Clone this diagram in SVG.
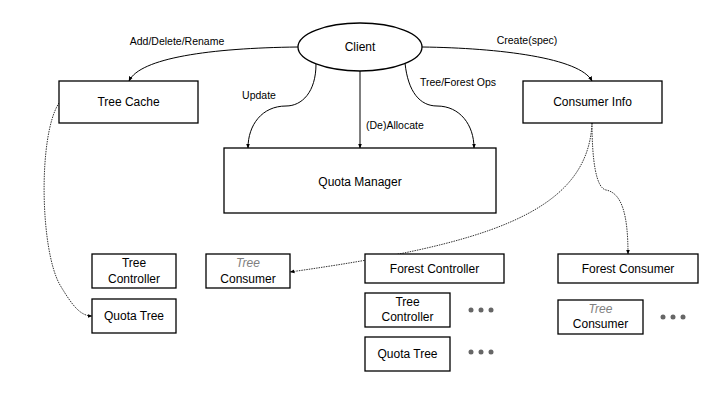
<svg xmlns="http://www.w3.org/2000/svg" width="720" height="405" viewBox="0 0 720 405">
<style>
.box{fill:#fff;stroke:#000;stroke-width:1.3}
.t{font-family:"Liberation Sans",Arial,sans-serif;font-size:12px;fill:#000;text-anchor:middle;dominant-baseline:central}
.l{font-family:"Liberation Sans",Arial,sans-serif;font-size:10.5px;fill:#000}
.it{font-style:italic;fill:#808080}
.c{fill:none;stroke:#000;stroke-width:1}
.d{fill:none;stroke:#333;stroke-width:1;stroke-dasharray:1.5 1}
.dot{fill:#666}
</style>
<defs>
<marker id="a" viewBox="0 0 10 10" refX="9" refY="5" markerWidth="5" markerHeight="5" orient="auto">
<path d="M0,1 L10,5 L0,9 z" fill="#000"/>
</marker>
</defs>
<rect width="720" height="405" fill="#fff"/>
<g id="connectors">
<path class="c" d="M298,47 C210,48 140,58 129,81" marker-end="url(#a)"/>
<path class="c" d="M422,47 C500,48 580,58 592,81" marker-end="url(#a)"/>
<path class="c" d="M316,64 C316,92 302,106 286,106 C262,106 248,125 248,148" marker-end="url(#a)"/>
<path class="c" d="M360,71 L360,148" marker-end="url(#a)"/>
<path class="c" d="M405,63 C408,92 420,106 437,106 C460,106 474,125 474,148" marker-end="url(#a)"/>
<path class="d" d="M592,123 C592,160 596,188 606,190 C622,193 628,215 628,254" marker-end="url(#a)"/>
<path class="d" d="M592,123 C588,215 480,245 290,272" marker-end="url(#a)"/>
<path class="d" d="M59,103 C38,135 40,250 60,285 C72,305 80,316 92,316" marker-end="url(#a)"/>
<text class="l" x="177" y="45" text-anchor="middle">Add/Delete/Rename</text>
<text class="l" x="527" y="44" text-anchor="middle">Create(spec)</text>
<text class="l" x="259" y="99" text-anchor="middle">Update</text>
<text class="l" x="366" y="129">(De)Allocate</text>
<text class="l" x="420" y="86">Tree/Forest Ops</text>
</g>
<g id="client"><ellipse class="box" cx="360" cy="47" rx="62" ry="24"/><text class="t" x="360" y="47">Client</text></g>
<g id="tree-cache"><rect class="box" x="59" y="81" width="139" height="42"/><text class="t" x="128.5" y="102">Tree Cache</text></g>
<g id="consumer-info"><rect class="box" x="523" y="81" width="139" height="42"/><text class="t" x="592.5" y="102">Consumer Info</text></g>
<g id="quota-manager"><rect class="box" x="224" y="148" width="272" height="65"/><text class="t" x="360" y="182">Quota Manager</text></g>
<g id="tree-controller-1"><rect class="box" x="92" y="254" width="84" height="34"/><text class="t" x="134" y="263">Tree</text><text class="t" x="134" y="279">Controller</text></g>
<g id="quota-tree-1"><rect class="box" x="92" y="299" width="84" height="34"/><text class="t" x="134" y="316">Quota Tree</text></g>
<g id="tree-consumer-1"><rect class="box" x="206" y="254" width="84" height="34"/><text class="t it" x="248" y="263">Tree</text><text class="t" x="248" y="279">Consumer</text></g>
<g id="forest-controller"><rect class="box" x="365" y="254" width="139" height="29"/><text class="t" x="434.5" y="268.5">Forest Controller</text></g>
<g id="forest-consumer"><rect class="box" x="558" y="254" width="140" height="29"/><text class="t" x="628" y="268.5">Forest Consumer</text></g>
<g id="tree-controller-2"><rect class="box" x="365" y="293" width="85" height="34"/><text class="t" x="407.5" y="302">Tree</text><text class="t" x="407.5" y="317">Controller</text></g>
<g id="quota-tree-2"><rect class="box" x="365" y="337" width="85" height="34"/><text class="t" x="407.5" y="354">Quota Tree</text></g>
<g id="tree-consumer-2"><rect class="box" x="558" y="300" width="85" height="34"/><text class="t it" x="600.5" y="309">Tree</text><text class="t" x="600.5" y="324">Consumer</text></g>
<g id="ellipsis-1"><circle class="dot" cx="471" cy="310" r="2.5"/><circle class="dot" cx="481" cy="310" r="2.5"/><circle class="dot" cx="491" cy="310" r="2.5"/></g>
<g id="ellipsis-2"><circle class="dot" cx="471" cy="352" r="2.5"/><circle class="dot" cx="481" cy="352" r="2.5"/><circle class="dot" cx="491" cy="352" r="2.5"/></g>
<g id="ellipsis-3"><circle class="dot" cx="663" cy="317" r="2.5"/><circle class="dot" cx="673" cy="317" r="2.5"/><circle class="dot" cx="683" cy="317" r="2.5"/></g>
</svg>
